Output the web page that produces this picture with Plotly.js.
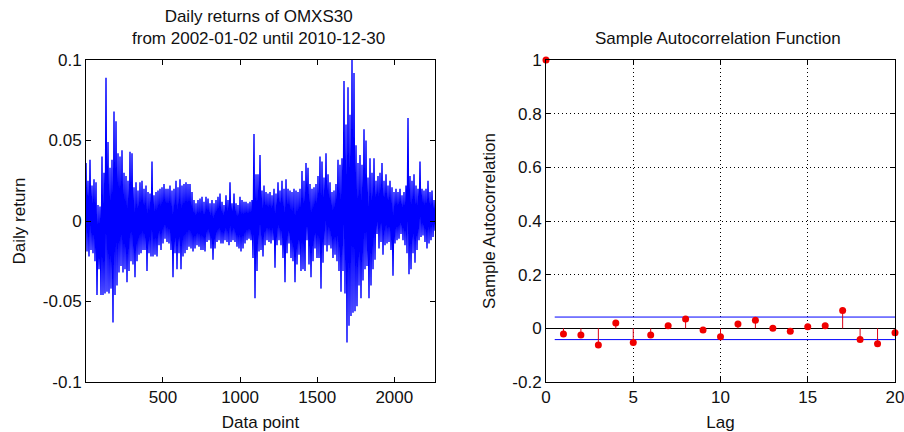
<!DOCTYPE html>
<html><head><meta charset="utf-8">
<script src="https://cdn.plot.ly/plotly-3.0.1.min.js"></script>
<style>html,body{margin:0;padding:0;background:#fff}#chart{width:904px;height:432px}</style>
</head><body><div id="chart"></div>
<script>
const upperCrest = [
 0.036,0.025,0.038,0.022,0.026,0.024,0.010,0.009,0.040,0.030,0.089,0.049,0.033,0.038,0.068,0.062,0.042,0.040,0.044,0.030,0.028,0.025,0.043,0.042,0.021,0.024,0.019,0.024,0.025,0.020,0.022,0.018,0.017,0.037,0.016,0.018,0.019,0.020,0.021,0.023,0.020,0.020,0.022,0.019,0.020,
 0.025,0.021,0.026,0.022,0.023,0.024,0.023,0.023,0.018,0.013,0.011,0.013,0.014,0.015,0.012,0.015,0.014,0.011,0.013,0.011,0.013,0.015,0.017,0.012,0.010,0.016,0.013,0.024,0.011,0.017,0.011,0.010,0.015,0.013,0.012,0.012,0.011,0.012,0.013,0.054,0.029,0.029,0.041,0.019,
 0.022,0.018,0.017,0.018,0.016,0.020,0.017,0.024,0.019,0.025,0.020,0.026,0.020,0.019,0.018,0.020,0.019,0.018,0.020,0.031,0.025,0.036,0.033,0.023,0.020,0.021,0.023,0.028,0.040,0.037,0.027,0.042,0.029,0.024,0.018,0.019,0.023,0.038,0.035,0.039,0.087,0.060,0.083,0.066,
 0.100,0.092,0.047,0.036,0.041,0.035,0.057,0.050,0.027,0.039,0.030,0.039,0.025,0.028,0.030,0.036,0.025,0.029,0.022,0.025,0.021,0.018,0.020,0.018,0.020,0.016,0.018,0.022,0.064,0.028,0.025,0.029,0.022,0.020,0.037,0.020,0.019,0.020,0.025,0.018,0.019,0.013
];
const lowerTrough = [
 -0.019,-0.022,-0.018,-0.020,-0.025,-0.046,-0.030,-0.046,-0.046,-0.045,-0.044,-0.045,-0.042,-0.063,-0.046,-0.040,-0.032,-0.028,-0.032,-0.030,-0.038,-0.031,-0.025,-0.027,-0.035,-0.025,-0.021,-0.020,-0.018,-0.018,-0.031,-0.020,-0.022,-0.022,-0.021,-0.022,-0.015,-0.018,-0.014,-0.011,-0.013,-0.014,-0.018,-0.035,-0.020,
 -0.030,-0.020,-0.030,-0.022,-0.020,-0.018,-0.016,-0.017,-0.019,-0.017,-0.015,-0.016,-0.018,-0.018,-0.019,-0.013,-0.012,-0.017,-0.024,-0.017,-0.013,-0.012,-0.014,-0.014,-0.012,-0.013,-0.015,-0.013,-0.012,-0.013,-0.016,-0.017,-0.019,-0.017,-0.014,-0.012,-0.011,-0.012,-0.023,-0.048,-0.031,-0.019,-0.018,-0.022,
 -0.015,-0.012,-0.013,-0.014,-0.012,-0.029,-0.015,-0.012,-0.015,-0.023,-0.038,-0.020,-0.014,-0.023,-0.025,-0.038,-0.027,-0.021,-0.031,-0.030,-0.031,-0.012,-0.027,-0.035,-0.025,-0.017,-0.023,-0.023,-0.042,-0.026,-0.015,-0.019,-0.015,-0.017,-0.023,-0.021,-0.025,-0.031,-0.044,-0.031,-0.045,-0.0755,-0.065,-0.059,
 -0.057,-0.056,-0.053,-0.040,-0.048,-0.037,-0.030,-0.028,-0.048,-0.040,-0.030,-0.024,-0.008,-0.017,-0.013,-0.021,-0.015,-0.014,-0.013,-0.018,-0.034,-0.014,-0.012,-0.011,-0.008,-0.012,-0.015,-0.020,-0.033,-0.030,-0.020,-0.026,-0.018,-0.012,-0.010,-0.009,-0.013,-0.017,-0.014,-0.012,-0.010,-0.006
];
const firstDay = 1;
const lastDay = 2264;
const dayTicks = [500, 1000, 1500, 2000];
const returnTicks = [-0.1, -0.05, 0, 0.05, 0.1];
const returnTickText = ['-0.1', '-0.05', '0', '0.05', '0.1'];

// Sample autocorrelation
const lags = [0,1,2,3,4,5,6,7,8,9,10,11,12,13,14,15,16,17,18,19,20];
const acfValues = [1, -0.021, -0.025, -0.062, 0.020, -0.053, -0.025, 0.010, 0.035, -0.006, -0.031, 0.016, 0.030, 0.000, -0.011, 0.006, 0.010, 0.066, -0.042, -0.057, -0.016];
const confBound = 0.042;
const boundLags = [0.5, 20];
const lagTicks = [0, 5, 10, 15, 20];
const acfTicks = [-0.2, 0, 0.2, 0.4, 0.6, 0.8, 1];
const acfTickText = ['-0.2', '0', '0.2', '0.4', '0.6', '0.8', '1'];

// ---- build traces ----
const nRead = upperCrest.length * 2;
const step = (lastDay - firstDay) / (nRead - 1);
const dayIdx = [], ret = [];
upperCrest.forEach((u, k) => {
  dayIdx.push(firstDay + 2 * k * step); ret.push(u);
  dayIdx.push(firstDay + (2 * k + 1) * step); ret.push(lowerTrough[k]);
});

// stems (lag 0 stem lies on the axis line and is hidden there)
const stemX = [], stemY = [];
lags.forEach((l, i) => { if (l > 0) { stemX.push(l, l, null); stemY.push(0, acfValues[i], null); } });

const FONT = 'Liberation Sans, Arial, Helvetica, sans-serif';
const FS = 17;
const tf = {family: FONT, size: FS, color: '#111'};
const traces = [
  {x: dayIdx, y: ret, type: 'scatter', mode: 'lines', line: {color: 'rgb(0,0,255)', width: 1.4}, xaxis: 'x', yaxis: 'y', hoverinfo: 'skip'},
  {x: boundLags, y: [confBound, confBound], type: 'scatter', mode: 'lines', line: {color: 'rgb(0,0,255)', width: 1}, xaxis: 'x2', yaxis: 'y2'},
  {x: boundLags, y: [-confBound, -confBound], type: 'scatter', mode: 'lines', line: {color: 'rgb(0,0,255)', width: 1}, xaxis: 'x2', yaxis: 'y2'},
  {x: stemX, y: stemY, type: 'scatter', mode: 'lines', line: {color: 'rgb(220,0,20)', width: 1}, xaxis: 'x2', yaxis: 'y2'},
  {x: lags, y: acfValues, type: 'scatter', mode: 'markers', marker: {color: 'rgb(240,0,0)', size: 7}, cliponaxis: false, xaxis: 'x2', yaxis: 'y2'}
];

const axisCommon = {
  showline: true, linecolor: '#000', linewidth: 1, mirror: 'ticks',
  ticks: 'inside', ticklen: 5, tickcolor: '#000', tickwidth: 1,
  tickfont: tf, zeroline: false, fixedrange: true, ticklabeloverflow: 'allow'
};
const W = 809, H = 322;
const layout = {
  width: 904, height: 432,
  margin: {l: 86, r: 9, t: 60, b: 50},
  paper_bgcolor: '#fff', plot_bgcolor: '#fff',
  showlegend: false,
  font: tf,
  xaxis: Object.assign({}, axisCommon, {domain: [0, 349 / W], range: [firstDay, lastDay], tickmode: 'array', tickvals: dayTicks, showgrid: false,
    title: {text: 'Data point', font: tf, standoff: 9}}),
  yaxis: Object.assign({}, axisCommon, {range: [-0.1, 0.1], tickmode: 'array', tickvals: returnTicks, ticktext: returnTickText, showgrid: false,
    title: {text: 'Daily return', font: tf, standoff: 12}}),
  xaxis2: Object.assign({}, axisCommon, {domain: [460 / W, 1], range: [0, 20], tickmode: 'array', tickvals: lagTicks, anchor: 'y2',
    showgrid: true, gridcolor: '#000', gridwidth: 1, griddash: '1px,3px',
    title: {text: 'Lag', font: tf, standoff: 9}}),
  yaxis2: Object.assign({}, axisCommon, {range: [-0.2, 1], tickmode: 'array', tickvals: acfTicks, ticktext: acfTickText, anchor: 'x2',
    showgrid: true, gridcolor: '#000', gridwidth: 1, griddash: '1px,3px',
    zeroline: true, zerolinecolor: '#000', zerolinewidth: 1,
    title: {text: 'Sample Autocorrelation', font: tf, standoff: 12}}),
  annotations: [
    {text: 'Daily returns of OMXS30<br>from 2002-01-02 until 2010-12-30', xref: 'paper', yref: 'paper',
      x: (258 - 86) / W, y: (382 - 50) / H, xanchor: 'center', yanchor: 'bottom', showarrow: false, font: tf},
    {text: 'Sample Autocorrelation Function', xref: 'paper', yref: 'paper',
      x: (718 - 86) / W, y: (382 - 50) / H, xanchor: 'center', yanchor: 'bottom', showarrow: false, font: tf}
  ]
};
Plotly.newPlot('chart', traces, layout, {displayModeBar: false, staticPlot: true});
</script></body></html>
